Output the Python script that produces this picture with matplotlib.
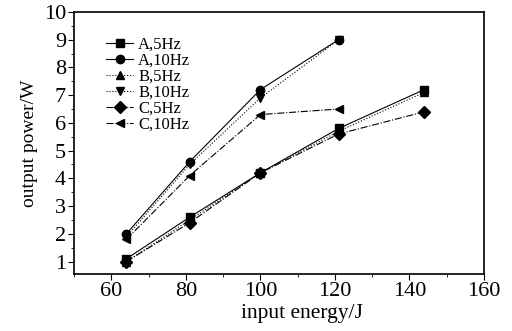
import matplotlib.pyplot as plt
from matplotlib.ticker import MultipleLocator

plt.rcParams['font.family'] = ['Liberation Serif', 'DejaVu Serif']

# input energy (J)
x_long = [64, 81, 100, 121, 144]
x_short = [64, 81, 100, 121]

# output power (W)
a_5hz = [1.1, 2.6, 4.2, 5.8, 7.2]
b_5hz = [1.0, 2.5, 4.2, 5.7, 7.1]
c_5hz = [1.0, 2.4, 4.2, 5.6, 6.4]
a_10hz = [2.0, 4.6, 7.2, 9.0]
b_10hz = [1.9, 4.5, 6.9, 9.0]
c_10hz = [1.8, 4.1, 6.3, 6.5]

fig = plt.figure(figsize=(5.12, 3.31), dpi=100)
ax = fig.add_axes([0.145, 0.172, 0.800, 0.792])

kw = dict(color='black', lw=0.8, markersize=6)
ax.plot(x_long, a_5hz, '-', marker='s', label='A,5Hz', **kw)
ax.plot(x_short, a_10hz, '-', marker='o', label='A,10Hz', **kw)
ax.plot(x_long, b_5hz, ':', marker='^', label='B,5Hz', **kw)
ax.plot(x_short, b_10hz, ':', marker='v', label='B,10Hz', **kw)
ax.plot(x_long, c_5hz, '-.', marker='D', label='C,5Hz', **kw)
ax.plot(x_short, c_10hz, '-.', marker='<', label='C,10Hz', **kw)

ax.set_xlim(50, 160)
ax.set_ylim(0.55, 10)
ax.xaxis.set_major_locator(MultipleLocator(20))
ax.xaxis.set_minor_locator(MultipleLocator(10))
ax.yaxis.set_major_locator(MultipleLocator(1))
ax.yaxis.set_minor_locator(MultipleLocator(0.5))
ax.tick_params(which='major', direction='out', length=4, labelsize=16, pad=2)
ax.tick_params(which='minor', direction='out', length=2)
for s in ax.spines.values():
    s.set_linewidth(1.2)

ax.set_xlabel('input energy/J', fontsize=15.5)
ax.xaxis.set_label_coords(0.556, -0.115)
ax.set_ylabel('output power/W', fontsize=14, labelpad=4)

ax.legend(loc='upper left', bbox_to_anchor=(0.05, 0.95), frameon=False,
          fontsize=12, handlelength=1.6, handletextpad=0.3,
          labelspacing=0.0, borderpad=0.2)

fig.savefig('out.png', dpi=100)
